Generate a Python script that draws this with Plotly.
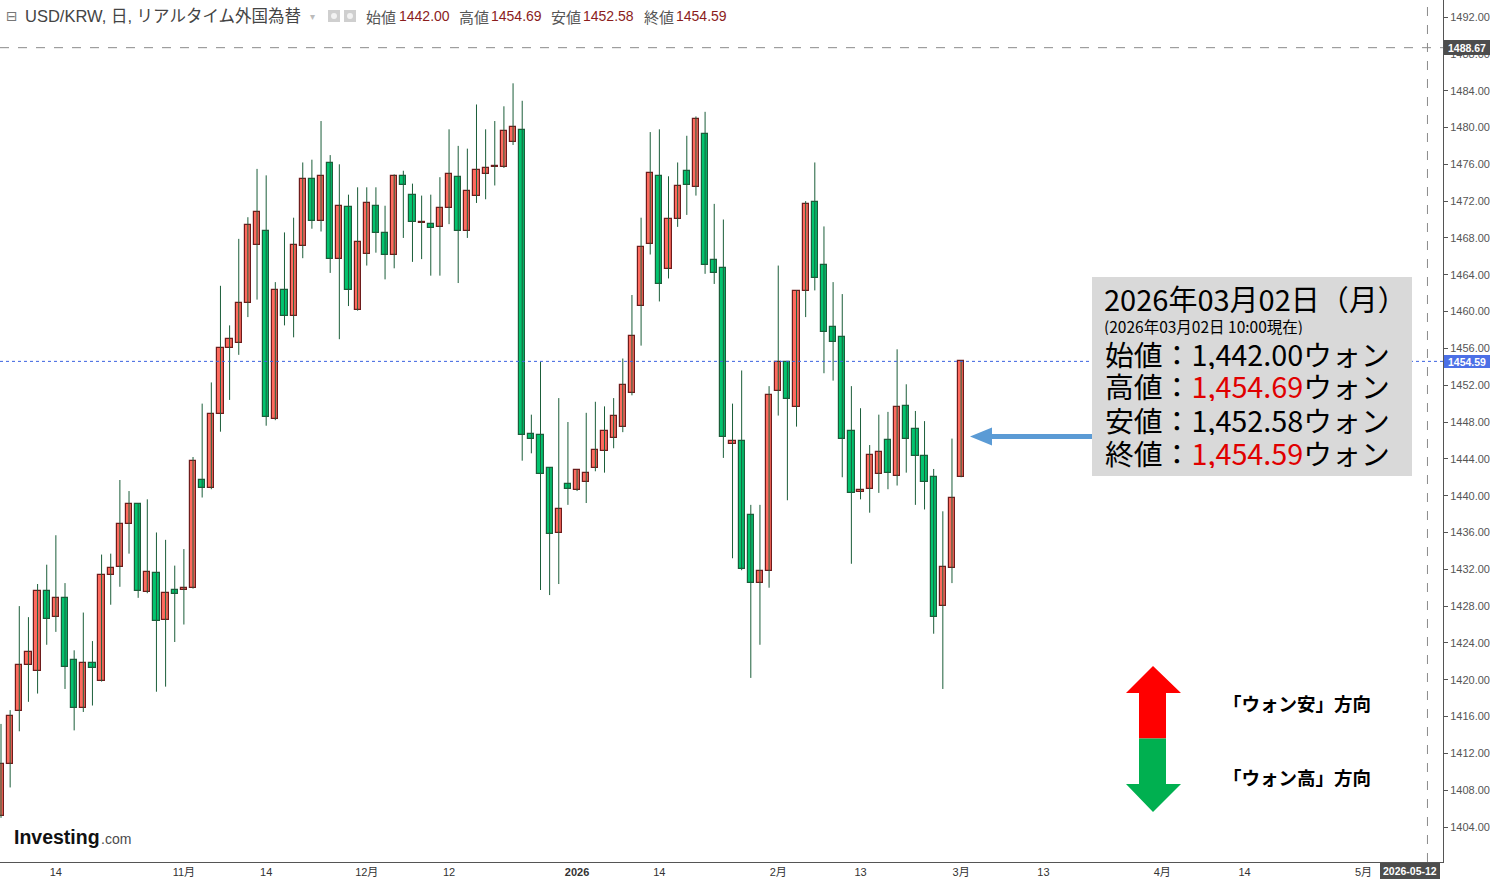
import numpy as np
import pandas as pd
import plotly.graph_objects as go

# ---------------- data ----------------
dates = pd.bdate_range("2025-10-06", "2026-03-02")  # daily candles (weekdays)

open_ = [1405.2, 1410.8, 1416.6, 1421.6, 1421.0, 1429.6, 1426.8, 1428.85, 1422.1, 1416.9,
         1421.8, 1419.9, 1431.35, 1432.2, 1436.9, 1439.06, 1429.5, 1431.6, 1426.5, 1429.8,
         1429.7, 1430.0, 1441.7, 1440.8, 1448.9, 1456.0, 1456.6, 1460.9, 1467.2, 1468.7,
         1448.3, 1462.3, 1459.5, 1467.1, 1474.4, 1469.8, 1476.1, 1465.7, 1471.4, 1460.2,
         1466.3, 1471.5, 1468.5, 1466.1, 1474.7, 1472.7, 1469.6, 1469.5, 1469.15, 1471.3,
         1474.6, 1468.7, 1472.6, 1475.0, 1475.7, 1475.7, 1478.4, 1479.7, 1446.7, 1446.6,
         1443.0, 1435.9, 1441.3, 1440.6, 1441.45, 1443.0, 1444.8, 1446.3, 1447.5, 1451.2,
         1460.6, 1467.3, 1474.7, 1464.6, 1470.1, 1475.3, 1473.5, 1479.3, 1465.6, 1464.7,
         1445.6, 1445.9, 1437.9, 1430.5, 1431.8, 1451.35, 1454.5, 1449.6, 1462.2, 1471.9,
         1465.1, 1458.3, 1457.2, 1447.0, 1440.4, 1440.7, 1442.4, 1446.1, 1442.1, 1449.7,
         1447.2, 1444.3, 1442.0, 1428.0, 1432.1, 1442.0]
high = [1415.2, 1416.7, 1428.0, 1426.8, 1430.4, 1432.5, 1435.7, 1430.5, 1423.2, 1427.3,
        1424.2, 1433.6, 1433.7, 1441.7, 1440.5, 1439.1, 1439.6, 1436.0, 1435.2, 1432.4,
        1434.2, 1444.2, 1450.0, 1452.3, 1462.8, 1458.5, 1467.9, 1470.25, 1475.5, 1474.8,
        1463.2, 1468.6, 1470.2, 1476.2, 1476.5, 1480.7, 1477.0, 1476.0, 1472.7, 1473.5,
        1473.5, 1473.5, 1471.5, 1474.9, 1475.3, 1473.9, 1472.6, 1472.7, 1474.6, 1479.8,
        1478.0, 1477.7, 1482.5, 1479.8, 1480.7, 1482.3, 1484.8, 1482.9, 1448.8, 1454.55,
        1443.1, 1450.6, 1448.0, 1442.8, 1449.0, 1450.2, 1449.7, 1450.6, 1454.9, 1461.8,
        1470.2, 1479.5, 1479.8, 1474.7, 1476.2, 1479.1, 1481.2, 1481.7, 1471.7, 1470.0,
        1450.0, 1453.6, 1439.0, 1439.0, 1451.9, 1465.0, 1454.6, 1462.3, 1472.0, 1476.2,
        1469.25, 1463.2, 1461.9, 1451.9, 1449.5, 1445.5, 1448.8, 1449.1, 1455.9, 1452.1,
        1449.2, 1448.1, 1442.9, 1438.3, 1446.2, 1454.69]
low = [1405.0, 1408.3, 1414.4, 1417.6, 1418.5, 1423.8, 1425.2, 1419.0, 1414.5, 1416.5,
       1417.2, 1419.8, 1428.15, 1430.1, 1433.7, 1428.9, 1429.4, 1418.7, 1419.25, 1424.1,
       1426.0, 1429.9, 1439.8, 1440.7, 1446.95, 1450.4, 1455.3, 1459.4, 1461.3, 1447.6,
       1448.2, 1458.5, 1457.2, 1465.8, 1469.0, 1468.7, 1464.2, 1457.0, 1460.6, 1460.1,
       1465.0, 1466.4, 1463.5, 1464.7, 1468.0, 1465.4, 1465.7, 1463.9, 1463.9, 1469.5,
       1463.1, 1468.0, 1471.8, 1472.2, 1473.7, 1475.6, 1478.1, 1443.8, 1444.6, 1429.75,
       1429.2, 1430.4, 1439.0, 1440.5, 1439.2, 1442.65, 1442.5, 1445.15, 1446.9, 1450.9,
       1456.3, 1466.2, 1461.1, 1463.6, 1469.2, 1470.5, 1472.6, 1464.1, 1463.0, 1444.1,
       1433.2, 1431.9, 1420.2, 1423.8, 1430.0, 1448.7, 1439.5, 1447.5, 1459.4, 1462.3,
       1453.3, 1452.5, 1442.0, 1432.6, 1439.6, 1438.15, 1440.3, 1440.7, 1441.1, 1442.5,
       1439.0, 1438.5, 1425.0, 1419.0, 1430.5, 1442.0]
close = [1410.85, 1416.1, 1421.6, 1423.0, 1429.6, 1426.6, 1428.85, 1421.35, 1416.9, 1421.8,
         1421.25, 1431.35, 1432.1, 1436.9, 1439.06, 1429.6, 1431.7, 1426.35, 1429.4, 1429.3,
         1430.0, 1443.8, 1440.8, 1448.9, 1456.0, 1457.0, 1460.9, 1469.4, 1470.8, 1448.6,
         1462.3, 1459.5, 1467.2, 1474.4, 1469.8, 1474.7, 1465.7, 1471.5, 1462.3, 1467.6,
         1471.8, 1468.5, 1466.1, 1474.7, 1473.8, 1469.7, 1469.7, 1469.05, 1471.3, 1474.9,
         1468.8, 1473.1, 1475.35, 1475.6, 1475.8, 1479.6, 1480.1, 1446.6, 1446.2, 1442.4,
         1435.8, 1438.5, 1440.7, 1442.75, 1442.5, 1445.0, 1447.0, 1448.7, 1452.0, 1457.3,
         1467.0, 1475.1, 1463.0, 1470.1, 1473.6, 1473.8, 1480.9, 1465.1, 1464.2, 1446.4,
         1445.9, 1432.0, 1430.5, 1431.8, 1450.9, 1454.5, 1450.45, 1462.2, 1471.7, 1463.6,
         1457.8, 1456.7, 1446.2, 1440.25, 1440.6, 1444.4, 1444.7, 1442.5, 1449.6, 1446.2,
         1444.3, 1441.5, 1426.8, 1432.2, 1439.8, 1454.59]

tick_dates = ["2025-10-14", "2025-11-03", "2025-11-14", "2025-12-01", "2025-12-12",
              "2026-01-01", "2026-01-14", "2026-02-02", "2026-02-13", "2026-03-02",
              "2026-03-13", "2026-04-01", "2026-04-14", "2026-05-01"]
tick_labels = ["14", "11月", "14", "12月", "12", "<b>2026</b>", "14", "2月", "13", "3月",
               "13", "4月", "14", "5月"]
y_ticks = [1404, 1408, 1412, 1416, 1420, 1424, 1428, 1432, 1436, 1440, 1444, 1448,
           1452, 1456, 1460, 1464, 1468, 1472, 1476, 1480, 1484, 1488, 1492]

crosshair_price = 1488.67
crosshair_date = "2026-05-12"
last_price = 1454.59

# ---------------- helpers ----------------
BASE = np.datetime64("2025-10-06")


def tidx(d):
    """trading-day index on the (weekday) time axis"""
    return int(np.busday_count(BASE, np.datetime64(str(d)[:10])))


x = [tidx(d) for d in dates]
PW, PH = 1443.0, 862.0   # plot area in pixels (margins l=0,t=0)


def px(v):
    return v / PW


def py(v):
    return 1 - v / PH


RED_FILL, RED_LINE = "#FF6A5E", "#6E1C1C"
GRN_FILL, GRN_LINE = "#02C46F", "#1B5E3A"
WICK = "#1B5E3A"

fig = go.Figure()

# wicks
wx, wy = [], []
for xi, h, l in zip(x, high, low):
    wx += [xi, xi, None]
    wy += [l, h, None]
fig.add_trace(go.Scatter(x=wx, y=wy, mode="lines", line=dict(color=WICK, width=1),
                         hoverinfo="skip"))

# bodies
up = [c >= o for o, c in zip(open_, close)]
base = [min(o, c) for o, c in zip(open_, close)]
hgt = [max(abs(c - o), 0.08) for o, c in zip(open_, close)]
fig.add_trace(go.Bar(x=x, y=hgt, base=base, width=0.68,
                     marker=dict(color=[RED_FILL if u else GRN_FILL for u in up],
                                 line=dict(color=[RED_LINE if u else GRN_LINE for u in up],
                                           width=1.2))))

shapes = []
ann = []

# crosshair + last price lines
shapes.append(dict(type="line", xref="paper", yref="y", x0=0, x1=1,
                   y0=crosshair_price, y1=crosshair_price,
                   line=dict(color="#8a8a8a", width=1, dash="dash"), layer="above"))
shapes.append(dict(type="line", xref="x", yref="paper", x0=tidx(crosshair_date),
                   x1=tidx(crosshair_date), y0=0, y1=1,
                   line=dict(color="#8a8a8a", width=1, dash="dash"), layer="above"))
shapes.append(dict(type="line", xref="paper", yref="y", x0=0, x1=1,
                   y0=last_price, y1=last_price,
                   line=dict(color="#3B62E0", width=1, dash="dot"), layer="above"))

# axis labels boxes
def label_box(x0, x1, y0, y1, color, text):
    shapes.append(dict(type="rect", xref="paper", yref="paper", x0=px(x0), x1=px(x1),
                       y0=py(y1), y1=py(y0), fillcolor=color, line=dict(width=0),
                       layer="above"))
    ann.append(dict(x=px((x0 + x1) / 2), y=py((y0 + y1) / 2), xref="paper", yref="paper",
                    text="<b>%s</b>" % text, showarrow=False, xanchor="center",
                    yanchor="middle", height=y1 - y0, borderpad=0,
                    font=dict(size=10.5, color="white", family="Arial")))


label_box(1444, 1490, 40, 55, "#4D4D4D", "%.2f" % crosshair_price)
label_box(1444, 1490, 355, 368, "#4C70E6", "%.2f" % last_price)
label_box(1380, 1440, 863, 879, "#4D4D4D", crosshair_date)

# info box
shapes.append(dict(type="rect", xref="paper", yref="paper", x0=px(1092), x1=px(1412),
                   y0=py(476), y1=py(277), fillcolor="#D9D9D9", line=dict(width=0),
                   layer="above"))

JP = "Noto Sans CJK JP"


def text(xp, yp, s, size, color="#000", family=JP, xanchor="left", h=None):
    d = dict(x=px(xp), y=py(yp), xref="paper", yref="paper", text=s,
             showarrow=False, xanchor=xanchor, yanchor="middle",
             font=dict(size=size, color=color, family=family))
    if h is not None:
        d["height"] = h
        d["borderpad"] = 0
    ann.append(d)


text(1103, 298, "2026年03月02日（月）", 29, h=30)
text(1103, 326, "(2026年03月02日 10:00現在)", 15.5, h=18)
RED = "#E00000"
text(1104, 353, "始値：1,442.00ウォン", 28.8, h=31)
text(1104, 386, "高値：<span style='color:%s'>1,454.69</span>ウォン" % RED, 28.8, h=31)
text(1104, 419, "安値：1,452.58ウォン", 28.8, h=31)
text(1104, 452, "終値：<span style='color:%s'>1,454.59</span>ウォン" % RED, 28.8, h=31)

# blue arrow
def path(points):
    s = "M " + " L ".join("%f,%f" % (px(a), py(b)) for a, b in points) + " Z"
    return s


BLUE = "#5B9BD5"
shapes.append(dict(type="path", xref="paper", yref="paper",
                   path=path([(970, 436.5), (992, 427.5), (992, 434), (1092, 434),
                              (1092, 439), (992, 439), (992, 445.5)]),
                   fillcolor=BLUE, line=dict(width=0), layer="above"))

# red / green direction arrow
shapes.append(dict(type="path", xref="paper", yref="paper",
                   path=path([(1153, 666), (1181, 693), (1166, 693), (1166, 738.5),
                              (1139, 738.5), (1139, 693), (1126, 693)]),
                   fillcolor="#FF0000", line=dict(width=0), layer="above"))
shapes.append(dict(type="path", xref="paper", yref="paper",
                   path=path([(1139, 738.5), (1166, 738.5), (1166, 784), (1181, 784),
                              (1153, 812), (1126, 784), (1139, 784)]),
                   fillcolor="#00B050", line=dict(width=0), layer="above"))
text(1221, 703, "<b>「ウォン安」方向</b>", 18.5)
text(1221, 777, "<b>「ウォン高」方向</b>", 18.5)

# header
GREY = "#555555"
VAL = "#8B1C1C"
text(4, 16, "⊟", 14, "#777", "DejaVu Sans")
text(23, 16, "USD/KRW, 日, リアルタイム外国為替", 16.5, "#444",
     "Arial, 'Noto Sans CJK JP'")
text(308, 17, "▾", 10, "#bbbbbb", "DejaVu Sans")
for xa in (328, 344):
    shapes.append(dict(type="rect", xref="paper", yref="paper", x0=px(xa), x1=px(xa + 12),
                       y0=py(22), y1=py(10), fillcolor="#cfcfcf", line=dict(width=0),
                       layer="above"))
    shapes.append(dict(type="circle", xref="paper", yref="paper", x0=px(xa + 3),
                       x1=px(xa + 9), y0=py(19), y1=py(13), fillcolor="#f2f2f2",
                       line=dict(width=0), layer="above"))
for lx, lab, vx, val in [(364, "始値", 397, "1442.00"), (457, "高値", 489, "1454.69"),
                         (549, "安値", 581, "1452.58"), (642, "終値", 674, "1454.59")]:
    text(lx, 16, lab, 15, GREY, JP)
    text(vx, 16, val, 14, VAL, "Arial")

# logo
text(12, 837, "<b>Investing</b>", 19.5, "#111", "Arial")
text(99, 839, ".com", 14, "#4a4a4a", "Arial")

fig.update_layout(
    width=1490, height=879,
    margin=dict(l=0, r=47, t=0, b=17),
    paper_bgcolor="white", plot_bgcolor="white",
    showlegend=False, bargap=0,
    shapes=shapes, annotations=ann,
    xaxis=dict(range=[-0.11, 157.7], tickmode="array",
               tickvals=[tidx(d) for d in tick_dates], ticktext=tick_labels,
               ticks="", showgrid=False, zeroline=False, showline=True,
               linecolor="#555", linewidth=1,
               tickfont=dict(size=11, color="#333", family="Arial, 'Noto Sans CJK JP'")),
    yaxis=dict(side="right", range=[1400.2, 1493.85], tickmode="array",
               tickvals=y_ticks, ticktext=["%.2f" % v for v in y_ticks],
               ticks="outside", ticklen=4, tickcolor="#555", showgrid=False,
               zeroline=False, showline=True, linecolor="#555", linewidth=1,
               tickfont=dict(size=11, color="#555", family="Arial")),
)

fig.write_html("out.html", config={"displayModeBar": False},
               post_script="document.body.style.margin='0';"
                           "document.body.style.overflow='hidden';")
